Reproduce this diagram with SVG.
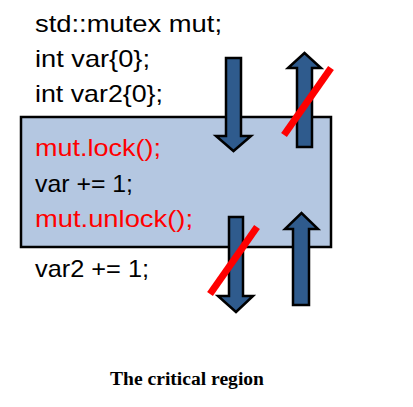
<svg xmlns="http://www.w3.org/2000/svg" width="413" height="407" viewBox="0 0 413 407">
<style>
.code{font-family:"Liberation Sans",Arial,sans-serif;font-size:24px;fill:#000}
.red{fill:#ff0000}
.arrow{fill:#2f5b8d;stroke:#000;stroke-width:2.5;stroke-linejoin:miter}
.cross{stroke:#ff0000;stroke-width:7;fill:none}
.cap{font-family:"Liberation Serif","Times New Roman",serif;font-size:18px;font-weight:bold;fill:#000}
</style>
<rect width="413" height="407" fill="#fff"/>
<g id="region">
<rect x="21" y="117" width="310" height="130" fill="#b4c7e1" stroke="#000" stroke-width="2.5"/>
</g>
<g id="code-before">
<text class="code" x="35" y="32" textLength="187" lengthAdjust="spacingAndGlyphs">std::mutex mut;</text>
<text class="code" x="35" y="67" textLength="115" lengthAdjust="spacingAndGlyphs">int var{0};</text>
<text class="code" x="35" y="102" textLength="128" lengthAdjust="spacingAndGlyphs">int var2{0};</text>
</g>
<g id="code-critical">
<text class="code red" x="35" y="156" textLength="126" lengthAdjust="spacingAndGlyphs">mut.lock();</text>
<text class="code" x="35" y="192" textLength="98" lengthAdjust="spacingAndGlyphs">var += 1;</text>
<text class="code red" x="35" y="227" textLength="158" lengthAdjust="spacingAndGlyphs">mut.unlock();</text>
</g>
<g id="code-after">
<text class="code" x="35" y="277" textLength="114" lengthAdjust="spacingAndGlyphs">var2 += 1;</text>
</g>
<g id="connectors">
<polygon id="down-in" class="arrow" points="226,58 241,58 241,136 251,136 233.5,151 216,136 226,136"/>
<polygon id="up-out" class="arrow" points="297,147 312,147 312,68 321,68 304.5,53 288,68 297,68"/>
<line class="cross" x1="331" y1="68" x2="284" y2="135"/>
<polygon id="down-out" class="arrow" points="229,217 243,217 243,296 253,296 236,312 218,296 229,296"/>
<line class="cross" x1="257" y1="227" x2="210" y2="294"/>
<polygon id="up-in" class="arrow" points="293,305 309,305 309,229 318,229 301.5,213 285,229 293,229"/>
</g>
<g id="caption">
<text class="cap" x="110" y="385" textLength="154" lengthAdjust="spacingAndGlyphs">The critical region</text>
</g>
</svg>
